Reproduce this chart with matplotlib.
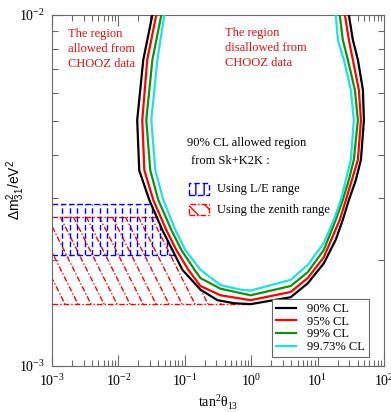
import numpy as np
import matplotlib.pyplot as plt
from matplotlib.patches import Rectangle
from matplotlib.ticker import NullFormatter

plt.rcParams['font.family'] = 'Liberation Serif'
plt.rcParams['mathtext.fontset'] = 'custom'
plt.rcParams['mathtext.rm'] = 'Liberation Serif'
plt.rcParams['hatch.linewidth'] = 1.0

# CHOOZ exclusion contours (tan^2 theta13, dm^2_31 in eV^2)
x90 = [0.0325, 0.0237, 0.0192, 0.0206, 0.0292, 0.0459, 0.0650, 0.0920, 0.172, 0.310,
       0.542, 0.98, 3.94, 7.11, 12.4, 18.8, 24.0, 29.6, 37.8, 45.0, 49.9, 48.2, 40.5, 34.0, 29.6]
y90 = [0.0100, 0.00745, 0.00502, 0.00361, 0.00297, 0.00244, 0.00214, 0.00188, 0.00165, 0.00154,
       0.00151, 0.00150, 0.00157, 0.00172, 0.00196, 0.00229, 0.00261, 0.00297, 0.00339, 0.00387,
       0.00502, 0.00611, 0.00745, 0.00849, 0.0100]

x95 = [0.0372, 0.0272, 0.0229, 0.0246, 0.0336, 0.0527, 0.0746, 0.113, 0.172, 0.345,
       0.98, 3.94, 7.11, 12.4, 21.6, 26.7, 32.9, 40.5, 45.0, 41.9, 34.0, 29.6, 25.8]
y95 = [0.0100, 0.00745, 0.00502, 0.00361, 0.00297, 0.00244, 0.00214, 0.00188, 0.00169, 0.00159,
       0.00154, 0.001625, 0.00178, 0.00204, 0.00261, 0.00297, 0.00339, 0.00387, 0.00502, 0.00611,
       0.00745, 0.00849, 0.0100]

x99 = [0.0443, 0.0325, 0.0263, 0.0302, 0.0399, 0.0627, 0.0888, 0.140, 0.172, 0.345,
       0.98, 3.94, 7.11, 12.4, 18.8, 24.0, 29.6, 35.2, 40.5, 36.5, 28.6, 24.0, 21.6]
y99 = [0.0100, 0.00745, 0.00502, 0.00361, 0.00297, 0.00244, 0.00214, 0.00188, 0.00178, 0.00166,
       0.00159, 0.00169, 0.00185, 0.00214, 0.00261, 0.00297, 0.00339, 0.00387, 0.00502, 0.00611,
       0.00745, 0.00849, 0.0100]

x9973 = [0.0492, 0.0386, 0.0313, 0.0360, 0.0475, 0.0721, 0.102, 0.172, 0.345, 0.692,
         0.98, 3.94, 7.11, 12.4, 17.6, 22.4, 26.7, 31.7, 35.2, 31.7, 24.9, 20.2, 18.8]
y9973 = [0.0100, 0.00745, 0.00502, 0.00361, 0.00297, 0.00244, 0.00214, 0.00188, 0.00170, 0.00165,
         0.00164, 0.00176, 0.00194, 0.00224, 0.00261, 0.00297, 0.00339, 0.00387, 0.00502, 0.00611,
         0.00745, 0.00849, 0.0100]

# SK+K2K 90% CL bands (dm^2 range) and their right edge in tan^2
le_band = [0.00207, 0.00289]
zen_band = [0.00150, 0.00266]
band_xmax = [1.0, 0.9]

fig = plt.figure(figsize=(3.91, 4.12), dpi=100)
ax = fig.add_axes([0.133, 0.1117, 0.849, 0.852])
ax.set_xscale('log')
ax.set_yscale('log')
ax.set_xlim(1e-3, 1e2)
ax.set_ylim(1e-3, 1e-2)

W = ax.bbox.width
H = ax.bbox.height
to_ax = ax.transData + ax.transAxes.inverted()


def band(ylo, yhi, xhi, color, ls, kind):
    clip = Rectangle((1e-3, ylo), xhi - 1e-3, yhi - ylo, transform=ax.transData)
    for yy in (ylo, yhi):
        ax.plot([1e-3, xhi], [yy, yy], color=color, ls=ls, lw=1.0, zorder=1.5)
    vb = to_ax.transform((1e-3, ylo))[1]
    vt = to_ax.transform((1e-3, yhi))[1]
    if kind == 'vert':
        for u in np.arange(10 / W, 1, 7.5 / W):
            ln, = ax.plot([u, u], [vb, vt], transform=ax.transAxes, color=color,
                          ls=ls, lw=1.0, zorder=1.5)
            ln.set_clip_path(clip)
    else:
        du = (vt - vb) * H / 2.0 / W
        for u in np.arange(-du, 1, 13 / W):
            ln, = ax.plot([u, u + du], [vt, vb], transform=ax.transAxes, color=color,
                          ls=ls, lw=1.0, zorder=1.5)
            ln.set_clip_path(clip)


dashdot = (0, (4, 1.5, 1, 1.5))
band(zen_band[0], zen_band[1], band_xmax[1], 'red', dashdot, 'diag')
band(le_band[0], le_band[1], band_xmax[0], 'blue', (0, (4, 2)), 'vert')

# inside of the contour is blank
ax.fill(x90, y90, color='white', zorder=2)

ax.plot(x90, y90, color='black', lw=1.6, zorder=3, label='90% CL')
ax.plot(x95, y95, color='red', lw=1.6, zorder=3, label='95% CL')
ax.plot(x99, y99, color='#109010', lw=1.6, zorder=3, label='99% CL')
ax.plot(x9973, y9973, color='#20e0e0', lw=1.6, zorder=3, label='99.73% CL')

leg = ax.legend(loc='lower right', bbox_to_anchor=(0.955, 0.026), borderaxespad=0,
                fontsize=9, handlelength=1.6, handletextpad=0.9, labelspacing=0.05,
                borderpad=0.3, fancybox=False, framealpha=1)
leg.get_frame().set_edgecolor('dimgray')
leg.get_frame().set_linewidth(0.8)
leg.set_zorder(5)

ax.text(0.048, 0.963, 'The region\nallowed from\nCHOOZ data', color='#dd1111',
        fontsize=9, va='top', ha='left', linespacing=1.35, transform=ax.transAxes)
ax.text(0.521, 0.966, 'The region\ndisallowed from\nCHOOZ data', color='#dd1111',
        fontsize=9, va='top', ha='left', linespacing=1.35, transform=ax.transAxes)
ax.text(0.407, 0.635, '90% CL allowed region', fontsize=9, va='center', ha='left',
        transform=ax.transAxes)
ax.text(0.42, 0.585, 'from Sk+K2K :', fontsize=9, va='center', ha='left',
        transform=ax.transAxes)

ax.add_patch(Rectangle((0.413, 0.488), 0.06, 0.032, transform=ax.transAxes, fill=False,
                       edgecolor='blue', hatch='||', ls=(0, (4, 2)), lw=1.0, zorder=4))
ax.add_patch(Rectangle((0.413, 0.430), 0.06, 0.032, transform=ax.transAxes, fill=False,
                       edgecolor='red', hatch='\\\\', ls=dashdot, lw=1.0, zorder=4))
ax.text(0.497, 0.503, 'Using L/E range', fontsize=9, va='center', ha='left',
        transform=ax.transAxes)
ax.text(0.497, 0.445, 'Using the zenith range', fontsize=9, va='center', ha='left',
        transform=ax.transAxes)

for s in ax.spines.values():
    s.set_color('dimgray')
ax.xaxis.set_minor_formatter(NullFormatter())
ax.yaxis.set_minor_formatter(NullFormatter())
ax.tick_params(which='both', direction='in', top=True, right=True, colors='dimgray',
               labelcolor='black', labelsize=10, width=0.8)
ax.tick_params(which='major', length=8, pad=5)
ax.tick_params(which='minor', length=4)

ax.set_xlabel(r'tan$^{\mathdefault{2}}$θ$_{\mathdefault{13}}$', fontsize=10, labelpad=2)
ax.set_ylabel(r'Δm$^{\mathdefault{2}}_{\mathdefault{31}}$/eV$^{\mathdefault{2}}$',
              fontsize=10, family='Liberation Sans')
ax.yaxis.set_label_coords(-0.075, 0.5)

fig.savefig('out.png', dpi=100)
